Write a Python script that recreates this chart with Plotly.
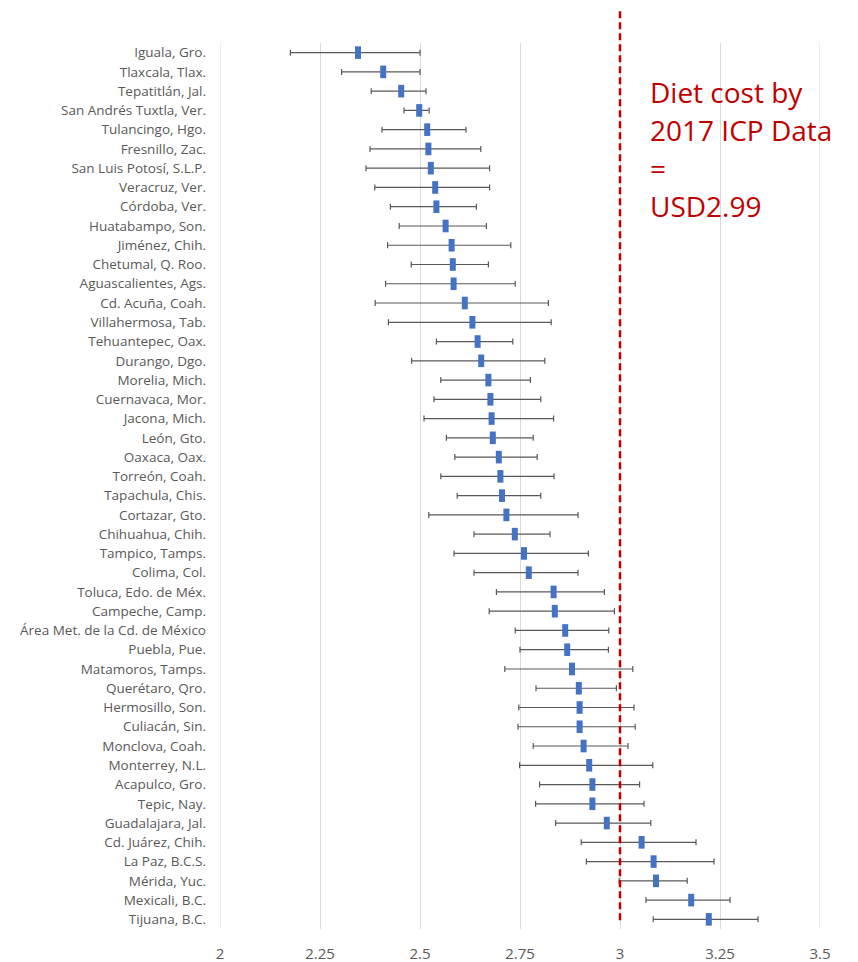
import plotly.graph_objects as go

cities = [
    "Iguala, Gro.", "Tlaxcala, Tlax.", "Tepatitlán, Jal.", "San Andrés Tuxtla, Ver.",
    "Tulancingo, Hgo.", "Fresnillo, Zac.", "San Luis Potosí, S.L.P.", "Veracruz, Ver.",
    "Córdoba, Ver.", "Huatabampo, Son.", "Jiménez, Chih.", "Chetumal, Q. Roo.",
    "Aguascalientes, Ags.", "Cd. Acuña, Coah.", "Villahermosa, Tab.", "Tehuantepec, Oax.",
    "Durango, Dgo.", "Morelia, Mich.", "Cuernavaca, Mor.", "Jacona, Mich.",
    "León, Gto.", "Oaxaca, Oax.", "Torreón, Coah.", "Tapachula, Chis.",
    "Cortazar, Gto.", "Chihuahua, Chih.", "Tampico, Tamps.", "Colima, Col.",
    "Toluca, Edo. de Méx.", "Campeche, Camp.", "Área Met. de la Cd. de México", "Puebla, Pue.",
    "Matamoros, Tamps.", "Querétaro, Qro.", "Hermosillo, Son.", "Culiacán, Sin.",
    "Monclova, Coah.", "Monterrey, N.L.", "Acapulco, Gro.", "Tepic, Nay.",
    "Guadalajara, Jal.", "Cd. Juárez, Chih.", "La Paz, B.C.S.", "Mérida, Yuc.",
    "Mexicali, B.C.", "Tijuana, B.C.",
]

mean_cost = [
    2.345, 2.408, 2.453, 2.498, 2.518, 2.521, 2.527, 2.538, 2.541, 2.564, 2.579,
    2.582, 2.584, 2.612, 2.631, 2.644, 2.653, 2.671, 2.676, 2.679, 2.682, 2.697,
    2.701, 2.705, 2.716, 2.737, 2.760, 2.772, 2.834, 2.837, 2.863, 2.868, 2.880,
    2.897, 2.899, 2.899, 2.909, 2.923, 2.931, 2.931, 2.967, 3.054, 3.084, 3.090,
    3.178, 3.222,
]

low_cost = [
    2.176, 2.304, 2.378, 2.460, 2.405, 2.375, 2.365, 2.387, 2.426, 2.448, 2.419,
    2.478, 2.414, 2.388, 2.421, 2.541, 2.479, 2.552, 2.535, 2.510, 2.566, 2.587,
    2.552, 2.593, 2.522, 2.635, 2.585, 2.635, 2.691, 2.673, 2.738, 2.750, 2.712,
    2.790, 2.747, 2.745, 2.783, 2.749, 2.799, 2.789, 2.839, 2.903, 2.916, 2.998,
    3.065, 3.083,
]

high_cost = [
    2.500, 2.500, 2.515, 2.523, 2.615, 2.652, 2.674, 2.674, 2.641, 2.666, 2.727,
    2.671, 2.738, 2.821, 2.828, 2.732, 2.812, 2.776, 2.802, 2.834, 2.783, 2.793,
    2.835, 2.802, 2.895, 2.825, 2.921, 2.895, 2.961, 2.986, 2.972, 2.971, 3.032,
    2.991, 3.035, 3.038, 3.020, 3.082, 3.049, 3.060, 3.077, 3.190, 3.235, 3.168,
    3.275, 3.345,
]

icp_cost = 3.0
x_ticks = [2, 2.25, 2.5, 2.75, 3, 3.25, 3.5]
x_tick_text = ["2", "2.25", "2.5", "2.75", "3", "3.25", "3.5"]
note_lines = ["Diet cost by", "2017 ICP Data", "=", "USD2.99"]

err_plus = [h - m for h, m in zip(high_cost, mean_cost)]
err_minus = [m - l for m, l in zip(mean_cost, low_cost)]

BLUE = "#4472C4"
RED = "#C00000"
GREY_TXT = "#595959"
GRID = "#D9D9D9"
FONT = "Open Sans"

fig = go.Figure()
fig.add_trace(go.Scatter(
    x=mean_cost, y=cities, mode="markers",
    marker=dict(symbol="line-ns", size=9, color=BLUE,
                line=dict(color=BLUE, width=6)),
    error_x=dict(type="data", symmetric=False, array=err_plus,
                 arrayminus=err_minus, color="#595959", thickness=1.2, width=3),
    hoverinfo="x+y", showlegend=False,
))

# edge gridlines (plotly omits gridlines on the range boundaries)
for xv in (x_ticks[0], x_ticks[-1]):
    fig.add_shape(type="line", xref="x", yref="paper", x0=xv, x1=xv, y0=0, y1=1,
                  layer="below", line=dict(color=GRID, width=1))

fig.add_shape(type="line", xref="x", yref="paper",
              x0=icp_cost, x1=icp_cost, y0=0.01, y1=1.0395,
              line=dict(color=RED, width=2.5, dash="7px,4px"))

for i, txt in enumerate(note_lines):
    fig.add_annotation(
        xref="paper", yref="paper", x=(648 - 220) / 600, y=(929 - (92 + 38 * i)) / 886,
        xanchor="left", yanchor="middle", text=txt, showarrow=False,
        font=dict(family=FONT, size=28, color=RED),
    )

fig.update_layout(
    width=858, height=962,
    margin=dict(l=220, r=38, t=43, b=33, autoexpand=False),
    paper_bgcolor="white", plot_bgcolor="white",
    font=dict(family=FONT, color=GREY_TXT),
    xaxis=dict(range=[2, 3.5], tickvals=x_ticks, ticktext=x_tick_text,
               showgrid=True, gridcolor=GRID, gridwidth=1,
               zeroline=False, showline=False, ticks="", automargin=False,
               tickfont=dict(family=FONT, size=15, color=GREY_TXT),
               ticklabelstandoff=14),
    yaxis=dict(type="category", categoryorder="array", categoryarray=cities,
               range=[len(cities) - 0.5, -0.5], showgrid=False, automargin=False,
               zeroline=False, showline=False, ticks="",
               tickfont=dict(family=FONT, size=13.5, color=GREY_TXT),
               ticklabelstandoff=13),
)

fig.write_html("out.html")
